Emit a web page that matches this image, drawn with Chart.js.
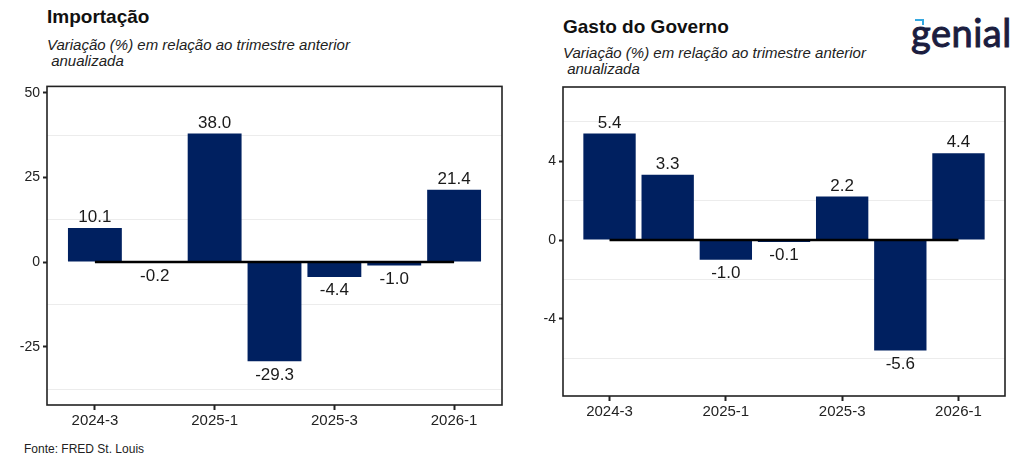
<!DOCTYPE html>
<html>
<head>
<meta charset="utf-8">
<script src="https://cdn.jsdelivr.net/npm/chart.js@4"></script>
<style>
  body { margin: 0; width: 1024px; height: 466px; background: #fff; position: relative; overflow: hidden;
         font-family: "Liberation Sans", Arial, sans-serif; color: #111; }
  .titulo { position: absolute; font-weight: bold; font-size: 19px; }
  .sub { position: absolute; font-style: italic; font-size: 15px; line-height: 16px; color: #222; white-space: pre; }
  .box { position: absolute; top: 75px; width: 512px; height: 360px; }
  #fonte { position: absolute; left: 24px; top: 442px; font-size: 12px; color: #222; }
  #logo { position: absolute; left: 911px; top: 9px; font-family: Lato, sans-serif; font-weight: normal; font-size: 38px;
          color: #1b1d3f; -webkit-text-stroke: 1px #1b1d3f; letter-spacing: 0.5px; }
  #marca { position: absolute; left: 915px; top: 19px; width: 7px; height: 4px; border-top: 2.5px solid #35a8e0; border-right: 2.5px solid #35a8e0; }
</style>
</head>
<body>
<div class="titulo" style="left:47px; top:6px;">Importação</div>
<div class="sub" style="left:47px; top:37px;">Variação (%) em relação ao trimestre anterior
 anualizada</div>

<div class="titulo" style="left:563px; top:16px;">Gasto do Governo</div>
<div class="sub" style="left:563px; top:45px;">Variação (%) em relação ao trimestre anterior
 anualizada</div>

<div id="logo">genial</div>
<div id="marca"></div>

<div class="box" style="left:0px;"><canvas id="chartImportacao"></canvas></div>
<div class="box" style="left:512px;"><canvas id="chartGasto"></canvas></div>

<div id="fonte">Fonte: FRED St. Louis</div>

<script>
// dados
const categorias = ["2024-3", "2024-4", "2025-1", "2025-2", "2025-3", "2025-4", "2026-1"];
const importacao = [10.1, -0.2, 38.0, -29.3, -4.4, -1.0, 21.4];
const gastoGoverno = [5.4, 3.3, -1.0, -0.1, 2.2, -5.6, 4.4];
const rotulosX = ["2024-3", "2025-1", "2025-3", "2026-1"];
const ticksImportacao = [-25, 0, 25, 50];
const menoresImportacao = [-37.5, -12.5, 12.5, 37.5];
const ticksGasto = [-4, 0, 4];
const menoresGasto = [-6, -2, 2, 6];

const azul = "#002060";
const fonte = "'Liberation Sans', Arial, sans-serif";

// caixa em volta do painel
const caixaPlugin = {
  id: "caixa",
  afterDraw(chart) {
    const a = chart.chartArea;
    const ctx = chart.ctx;
    ctx.save();
    ctx.strokeStyle = "#222";
    ctx.lineWidth = 1.6;
    ctx.strokeRect(a.left, a.top, a.right - a.left, a.bottom - a.top);
    ctx.restore();
  }
};

// valores em cima/embaixo das barras
const rotulosPlugin = {
  id: "rotulos",
  afterDatasetsDraw(chart) {
    const ctx = chart.ctx;
    const meta = chart.getDatasetMeta(1);
    const valores = chart.data.datasets[1].data;
    ctx.save();
    ctx.font = "17px " + fonte;
    ctx.fillStyle = "#1a1a1a";
    ctx.textAlign = "center";
    meta.data.forEach((barra, i) => {
      const v = valores[i].y;
      if (v >= 0) {
        ctx.textBaseline = "bottom";
        ctx.fillText(v.toFixed(1), barra.x, barra.y - 2);
      } else {
        ctx.textBaseline = "top";
        ctx.fillText(v.toFixed(1), barra.x, barra.y + 5);
      }
    });
    ctx.restore();
  }
};

function criaGrafico(id, valores, maiores, menores, yMin, yMax, larguraY, alturaX, pad) {
  const todos = maiores.concat(menores).sort((a, b) => a - b);
  const ctx = document.getElementById(id).getContext("2d");
  return new Chart(ctx, {
    type: "bar",
    data: {
      datasets: [
        {
          type: "line",
          data: [{ x: 0, y: 0 }, { x: categorias.length - 1, y: 0 }],
          borderColor: "#000",
          borderWidth: 2.5,
          pointRadius: 0,
          order: 0,
        },
        {
          type: "bar",
          data: valores.map((v, i) => ({ x: i, y: v })),
          backgroundColor: azul,
          borderWidth: 0,
          barPercentage: 0.9,
          categoryPercentage: 1,
          order: 1,
        },
      ],
    },
    options: {
      responsive: true,
      maintainAspectRatio: false,
      animation: false,
      layout: { padding: pad },
      plugins: { legend: { display: false }, tooltip: { enabled: false } },
      scales: {
        x: {
          type: "linear",
          offset: false,
          min: -0.8,
          max: categorias.length - 1 + 0.8,
          afterBuildTicks: (s) => { s.ticks = rotulosX.map((l) => ({ value: categorias.indexOf(l) })); },
          afterFit: (s) => { s.height = alturaX; },
          ticks: {
            callback: (v) => categorias[v],
            color: "#222",
            font: { family: fonte, size: 15 },
            padding: 2,
            maxRotation: 0,
          },
          grid: { offset: false, drawOnChartArea: false, tickLength: 5, tickColor: "#222", tickWidth: 2 },
          border: { display: false },
        },
        y: {
          min: yMin,
          max: yMax,
          afterBuildTicks: (s) => { s.ticks = todos.map((v) => ({ value: v })); },
          afterFit: (s) => { s.width = larguraY; },
          ticks: {
            callback: (v) => (maiores.includes(v) ? String(v) : ""),
            color: "#222",
            font: { family: fonte, size: 14 },
            padding: 3,
          },
          grid: {
            color: (c) => (c.tick && menores.includes(c.tick.value) ? "#ececec" : "rgba(0,0,0,0)"),
            tickColor: (c) => (c.tick && maiores.includes(c.tick.value) ? "#222" : "rgba(0,0,0,0)"),
            tickLength: 4,
            tickWidth: 2,
            lineWidth: 1,
          },
          border: { display: false },
        },
      },
    },
    plugins: [caixaPlugin, rotulosPlugin],
  });
}

criaGrafico("chartImportacao", importacao, ticksImportacao, menoresImportacao, -42.2, 51.9, 47, 30,
  { top: 11, right: 10, left: 0, bottom: 0 });
criaGrafico("chartGasto", gastoGoverno, ticksGasto, menoresGasto, -7.9, 7.75, 51, 39,
  { top: 12, right: 19, left: 0, bottom: 0 });
</script>
</body>
</html>
